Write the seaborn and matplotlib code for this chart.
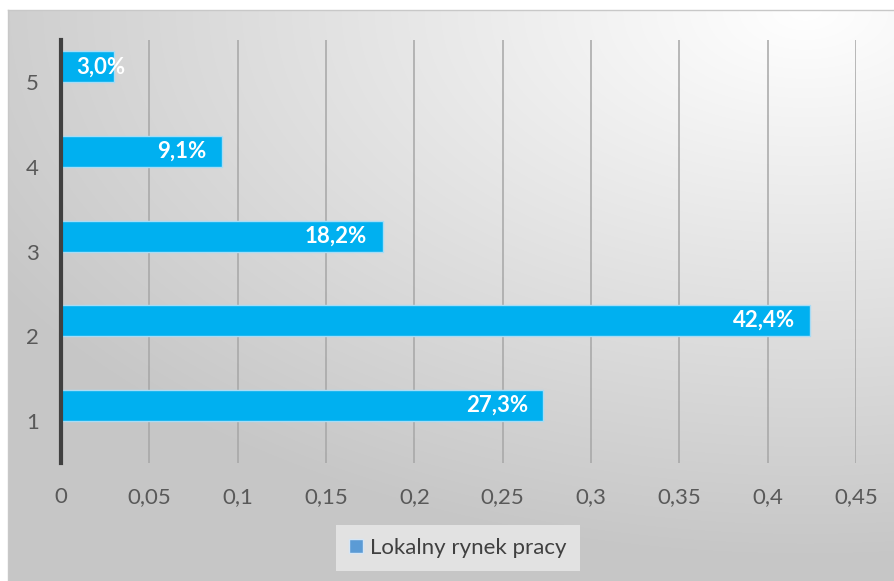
import numpy as np
import pandas as pd
import matplotlib
matplotlib.use("Agg")
import matplotlib.pyplot as plt
import seaborn as sns
from matplotlib.patches import Patch

categories = ["1", "2", "3", "4", "5"]
values = [0.273, 0.424, 0.182, 0.091, 0.030]
hidden_values = [np.nan, np.nan, np.nan, np.nan, np.nan]  # empty second series (reserves space)
labels = ["27,3%", "42,4%", "18,2%", "9,1%", "3,0%"]
xticks = [0, 0.05, 0.1, 0.15, 0.2, 0.25, 0.3, 0.35, 0.4, 0.45]
xtick_labels = ["0", "0,05", "0,1", "0,15", "0,2", "0,25", "0,3", "0,35", "0,4", "0,45"]
series_name = "Lokalny rynek pracy"
hidden_name = "_hidden"

sns.set_theme(style="white")
plt.rcParams["font.family"] = ["Lato", "DejaVu Sans"]

W, H = 895, 581
fig = plt.figure(figsize=(W / 100, H / 100), dpi=100)
fig.patch.set_facecolor("white")

# background gradient panel
bg = fig.add_axes([8 / W, 0, 1 - 8 / W, 1 - 10 / H])
ny, nx = 300, 500
yy, xx = np.mgrid[0:1:ny * 1j, 0:1:nx * 1j]
d = np.sqrt(((xx - 0.9) * 1.0) ** 2 + ((yy - 0.0) * 1.1) ** 2)
d = np.clip(d / 1.05, 0, 1)
val = 1.0 - 0.22 * d
img = np.dstack([val, val, val])
bg.imshow(img, aspect="auto", extent=[0, 1, 1, 0], interpolation="bilinear")
bg.set_xlim(0, 1)
bg.set_ylim(1, 0)
bg.set_xticks([])
bg.set_yticks([])
for s in bg.spines.values():
    s.set_color("#c8c8c8")
    s.set_linewidth(1)
bg.spines["right"].set_visible(False)
bg.spines["bottom"].set_visible(False)

ax = fig.add_axes([61 / W, 1 - 463 / H, (856 - 61) / W, (463 - 40) / H])
ax.patch.set_alpha(0)

df = pd.DataFrame({
    "cat": categories * 2,
    "val": values + hidden_values,
    "series": [series_name] * len(categories) + [hidden_name] * len(categories),
})
order = ["5", "4", "3", "2", "1"]
sns.barplot(data=df, y="cat", x="val", hue="series", order=order,
            hue_order=[series_name, hidden_name], orient="h",
            palette={series_name: "#00b0f0", hidden_name: "#00b0f0"},
            saturation=1, width=0.73, dodge=True, edgecolor="#a8dcf5", linewidth=1,
            ax=ax, zorder=3, legend=False)

ax.set_xlim(0, 0.45)
ax.set_ylim(4.5, -0.5)
ax.set_xticks(xticks)
ax.set_xticklabels(xtick_labels)
ax.set_xlabel("")
ax.set_ylabel("")
ax.xaxis.grid(True, color="#a6a6a6", linewidth=1.1, zorder=0)
ax.yaxis.grid(False)
ax.set_axisbelow(True)
for s in ["top", "right", "bottom"]:
    ax.spines[s].set_visible(False)
ax.spines["left"].set_color("#404040")
ax.spines["left"].set_linewidth(3)
ax.spines["left"].set_zorder(5)
ax.tick_params(axis="x", length=0, pad=17, labelsize=16, labelcolor="#595959")
ax.tick_params(axis="y", length=0, pad=16, labelsize=16, labelcolor="#595959")

# data labels (inside end) on the visible series' bars
fig.canvas.draw()
renderer = fig.canvas.get_renderer()
lab_by_cat = dict(zip(categories, labels))
bars = ax.containers[0]
x0 = ax.transData.transform((0, 0))[0]
for i, (c, rect) in enumerate(zip(order, bars)):
    v = rect.get_width()
    yc = rect.get_y() + rect.get_height() / 2
    t = ax.annotate(lab_by_cat[c], xy=(v, yc), xytext=(-11, 0), textcoords="offset points",
                    ha="right", va="center", color="white", fontsize=16,
                    fontweight="bold", zorder=6)
    bb = t.get_window_extent(renderer)
    if bb.x0 < x0 + 16:
        t.remove()
        ax.annotate(lab_by_cat[c], xy=(0, yc), xytext=(11, 0), textcoords="offset points",
                    ha="left", va="center", color="white", fontsize=16,
                    fontweight="bold", zorder=6)

handle = Patch(facecolor="#5b9bd5", edgecolor="#d6e6f5", linewidth=1)
leg = fig.legend([handle], [series_name], loc="center", bbox_to_anchor=(458 / W, 1 - 548 / H),
                 frameon=True, fancybox=False, fontsize=16, handlelength=0.6, handleheight=0.6,
                 handletextpad=0.35, borderpad=0.6, borderaxespad=0, labelcolor="#404040")
leg.get_frame().set_facecolor("#e2e2e2")
leg.get_frame().set_edgecolor("none")
leg.get_frame().set_alpha(1)

fig.savefig("out.png", dpi=100)
